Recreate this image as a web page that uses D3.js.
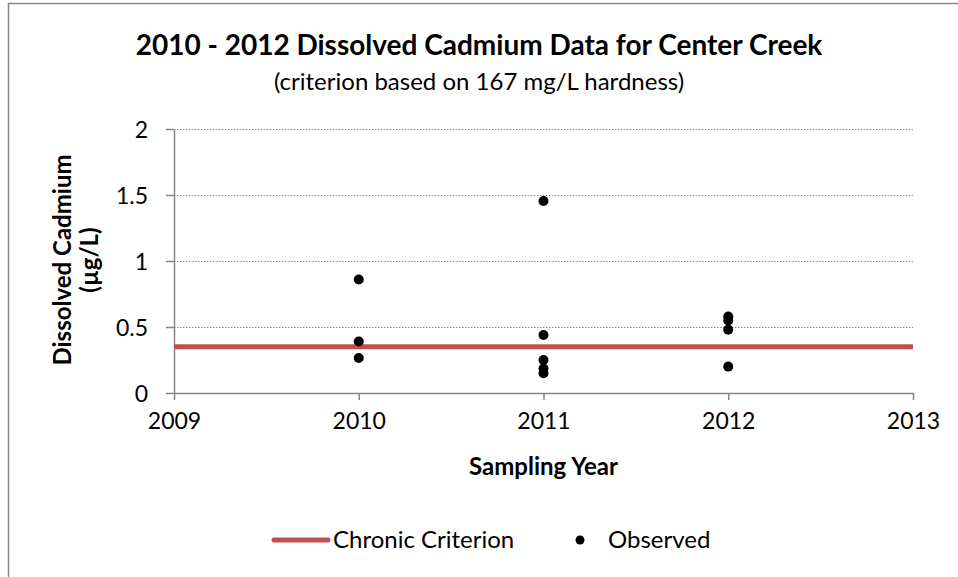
<!DOCTYPE html>
<html>
<head>
<meta charset="utf-8">
<script src="https://cdn.jsdelivr.net/npm/d3@7"></script>
<style>
  body { margin: 0; background: #fff; }
  text { font-family: Lato, "Open Sans", sans-serif; fill: #000; }
</style>
</head>
<body>
<div id="chart"></div>
<script>
// chart values
var years = [2010, 2010, 2010, 2011, 2011, 2011, 2011, 2011, 2012, 2012, 2012, 2012];
var cadmium = [0.86, 0.39, 0.265, 1.455, 0.44, 0.25, 0.185, 0.15, 0.58, 0.55, 0.48, 0.20];
var criterion = 0.35;
var xTicks = [2009, 2010, 2011, 2012, 2013];
var yTicks = [0, 0.5, 1, 1.5, 2];

var svgWidth = 958;
var svgHeight = 577;

var margin = { top: 129, right: 45, bottom: 184, left: 174 };
var width = 913 - margin.left;
var height = 393 - margin.top;

var svg = d3.select("#chart")
  .append("svg")
  .attr("width", svgWidth)
  .attr("height", svgHeight);

// outer frame (runs off the right and bottom edges)
svg.append("rect")
  .attr("x", 8.5)
  .attr("y", 3.5)
  .attr("width", 1000)
  .attr("height", 1000)
  .attr("fill", "none")
  .attr("stroke", "#868686")
  .attr("stroke-width", 1.5);

var chartGroup = svg.append("g")
  .attr("transform", `translate(${margin.left}, ${margin.top})`);

var xScale = d3.scaleLinear().domain([2009, 2013]).range([0, width]);
var yScale = d3.scaleLinear().domain([0, 2]).range([height, 0]);

// gridlines
chartGroup.append("g")
  .selectAll("line")
  .data(yTicks.filter(d => d > 0))
  .enter()
  .append("line")
  .attr("x1", 0)
  .attr("x2", width)
  .attr("y1", d => yScale(d) + 0.5)
  .attr("y2", d => yScale(d) + 0.5)
  .attr("stroke", "#8c8c8c")
  .attr("stroke-width", 1)
  .attr("stroke-dasharray", "1.5,1.5");

// axes
var bottomAxis = d3.axisBottom(xScale)
  .tickValues(xTicks)
  .tickFormat(d3.format("d"))
  .tickSize(7)
  .tickSizeOuter(0)
  .tickPadding(12);

var leftAxis = d3.axisLeft(yScale)
  .tickValues(yTicks)
  .tickFormat(d => d)
  .tickSize(8)
  .tickSizeOuter(0)
  .tickPadding(18);

var xAxis = chartGroup.append("g")
  .attr("transform", `translate(0, ${height})`)
  .call(bottomAxis);

var yAxis = chartGroup.append("g")
  .call(leftAxis);

[xAxis, yAxis].forEach(function (ax) {
  ax.select(".domain").attr("stroke", "#868686").attr("stroke-width", 1.5);
  ax.selectAll(".tick line").attr("stroke", "#868686").attr("stroke-width", 1.5);
  ax.selectAll(".tick text")
    .style("font-family", "Lato, 'Open Sans', sans-serif")
    .style("font-size", "23px")
    .attr("fill", "#000");
});
yAxis.selectAll(".tick text").attr("dy", "0.35em");
xAxis.selectAll(".tick text").attr("dy", "0.72em");

// criterion line
chartGroup.append("line")
  .attr("x1", 0)
  .attr("x2", width)
  .attr("y1", yScale(criterion))
  .attr("y2", yScale(criterion))
  .attr("stroke", "#C0504D")
  .attr("stroke-width", 5);

// observed points
chartGroup.selectAll("circle")
  .data(cadmium)
  .enter()
  .append("circle")
  .attr("cx", (d, i) => xScale(years[i]))
  .attr("cy", d => yScale(d))
  .attr("r", 5)
  .attr("fill", "#000");

// titles
svg.append("text")
  .attr("x", 479)
  .attr("y", 55)
  .attr("text-anchor", "middle")
  .style("font-size", "28px")
  .style("font-weight", "bold")
  .text("2010 - 2012 Dissolved Cadmium Data for Center Creek");

svg.append("text")
  .attr("x", 479)
  .attr("y", 90)
  .attr("text-anchor", "middle")
  .style("font-size", "24px")
  .text("(criterion based on 167 mg/L hardness)");

svg.append("text")
  .attr("x", margin.left + width / 2)
  .attr("y", 475)
  .attr("text-anchor", "middle")
  .style("font-size", "24px")
  .style("font-weight", "bold")
  .text("Sampling Year");

var yTitle = svg.append("g")
  .attr("transform", "translate(0, 260) rotate(-90)");

yTitle.append("text")
  .attr("x", 0)
  .attr("y", 71)
  .attr("text-anchor", "middle")
  .style("font-size", "24px")
  .style("font-weight", "bold")
  .text("Dissolved Cadmium");

yTitle.append("text")
  .attr("x", 0)
  .attr("y", 98)
  .attr("text-anchor", "middle")
  .style("font-size", "24px")
  .style("font-weight", "bold")
  .text("(µg/L)");

// legend
var legend = svg.append("g");

legend.append("line")
  .attr("x1", 274)
  .attr("x2", 328)
  .attr("y1", 540)
  .attr("y2", 540)
  .attr("stroke", "#C0504D")
  .attr("stroke-width", 5)
  .attr("stroke-linecap", "round");

legend.append("text")
  .attr("x", 333)
  .attr("y", 548)
  .style("font-size", "24px")
  .text("Chronic Criterion");

legend.append("circle")
  .attr("cx", 580)
  .attr("cy", 540)
  .attr("r", 4.5)
  .attr("fill", "#000");

legend.append("text")
  .attr("x", 608)
  .attr("y", 548)
  .style("font-size", "24px")
  .text("Observed");
</script>
</body>
</html>
